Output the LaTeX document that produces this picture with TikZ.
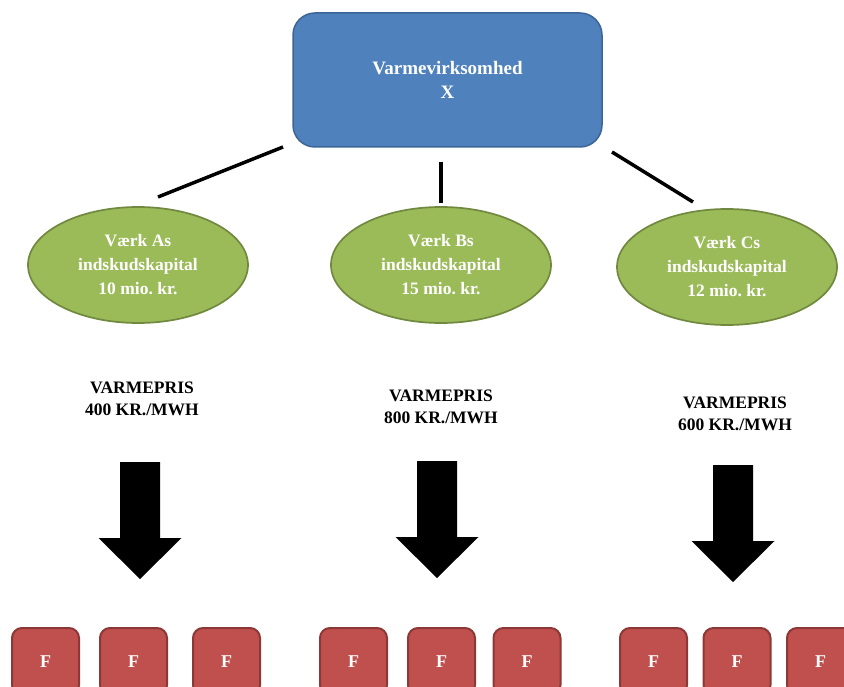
\documentclass[tikz,border=0pt]{standalone}
\usepackage{fontspec}
\setmainfont{Liberation Serif}
\usetikzlibrary{shapes.geometric}
\definecolor{firmblue}{HTML}{4F81BD}
\definecolor{firmline}{HTML}{3C6596}
\definecolor{plantgreen}{HTML}{9BBB59}
\definecolor{plantline}{HTML}{71893F}
\definecolor{fred}{HTML}{C0504D}
\definecolor{fredline}{HTML}{8C3836}
\frenchspacing
\begin{document}
\begin{tikzpicture}[x=1pt, y=-1pt,
		firm/.style={rectangle, rounded corners=22pt, draw=firmline, line width=1.5pt, fill=firmblue,
			text=white, font=\bfseries\fontsize{19}{24}\selectfont, align=center,
			minimum width=309pt, minimum height=134pt},
		plant/.style={ellipse, draw=plantline, line width=1.7pt, fill=plantgreen, text=white,
			font=\bfseries\fontsize{17.5}{24}\selectfont, align=center, inner sep=0pt,
			minimum width=220pt, minimum height=116pt},
		price/.style={font=\bfseries\fontsize{17.5}{21.5}\selectfont, align=center},
		fbox/.style={rectangle, rounded corners=10pt, draw=fredline, line width=2pt, fill=fred,
			text=white, font=\bfseries\fontsize{18}{20}\selectfont, minimum size=67pt},
		link/.style={line width=3.5pt}
		]
	\path[use as bounding box, clip] (0,0) rectangle (844,687);
	% top and plants
	\node [firm] (vX) at (447.5,80) {Varmevirksomhed\\X};
	\node [plant] (vA) at (138,265) {Værk As\\indskudskapital\\10 mio. kr.};
	\node [plant] (vB) at (441,265) {Værk Bs\\indskudskapital\\15 mio. kr.};
	\node [plant] (vC) at (727,267) {Værk Cs\\indskudskapital\\12 mio. kr.};
	\coordinate (lA1) at (283,147); \coordinate (lA2) at (158,197);
	\coordinate (lB1) at (441,162); \coordinate (lB2) at (441,203);
	\coordinate (lC1) at (612,152); \coordinate (lC2) at (693,202);
	\draw [link] (lA1) -- (lA2);
	\draw [link] (lB1) -- (lB2);
	\draw [link] (lC1) -- (lC2);
	% prices
	\node [price] (pA) at (142,399) {VARMEPRIS\\400 KR./MWH};
	\node [price] (pB) at (441,407) {VARMEPRIS\\800 KR./MWH};
	\node [price] (pC) at (735,414) {VARMEPRIS\\600 KR./MWH};
	% big arrows
	\foreach \ax/\ay in {140/462, 437/461, 733/465}
		\fill (\ax-20,\ay) -- (\ax+20,\ay) -- (\ax+20,\ay+76) -- (\ax+41.5,\ay+76)
			-- (\ax,\ay+117) -- (\ax-41.5,\ay+76) -- (\ax-20,\ay+76) -- cycle;
	% firms
	\foreach \fx [count=\i] in {45.5, 133.5, 226.5, 353.5, 441.5, 527, 653.5, 737, 820.5}
		\node [fbox] (f\i) at (\fx,661.5) {F};
\end{tikzpicture}
\end{document}
